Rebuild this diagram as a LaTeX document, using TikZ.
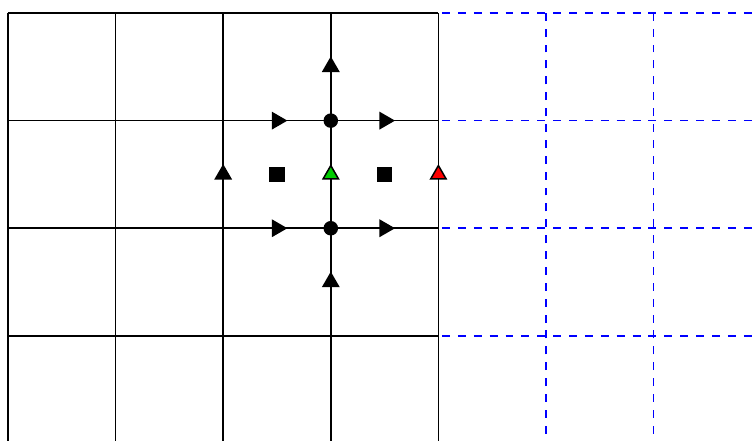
\documentclass[tikz,border=0pt]{standalone}
\usetikzlibrary{shapes.geometric}

\begin{document}
\begin{tikzpicture}[dot/.style={circle, fill=black, inner sep=0pt, minimum size=0.135cm},
  sq/.style={rectangle, fill=black, inner sep=0pt, minimum size=0.14cm},
  tri/.style={regular polygon, regular polygon sides=3, draw=black, fill=black, inner sep=0pt, minimum size=0.165cm},
  rtri/.style={tri, regular polygon rotate=-90}]
\clip (-0.074,0.032) rectangle (6.914,4.121);
\draw[blue, dash pattern=on 2.1pt off 2.1pt] (3,-0.5) grid (7.5,4);
\draw (0,-0.5) grid (4,4);
\node[dot] (pN) at (3,3) {};
\node[dot] (pS) at (3,2) {};
\node[rtri] (uNW) at (2.5,3) {}; \node[rtri] (uNE) at (3.5,3) {};
\node[rtri] (uSW) at (2.5,2) {}; \node[rtri] (uSE) at (3.5,2) {};
\node[tri] (vN) at (3,3.5) {}; \node[tri] (vS) at (3,1.5) {};
\node[tri] (vW) at (2,2.5) {};
\node[tri, fill=green!80!black] (vC) at (3,2.5) {};
\node[tri, fill=red] (vE) at (4,2.5) {};
\node[sq] (qW) at (2.5,2.5) {}; \node[sq] (qE) at (3.5,2.5) {};
\end{tikzpicture}
\end{document}
